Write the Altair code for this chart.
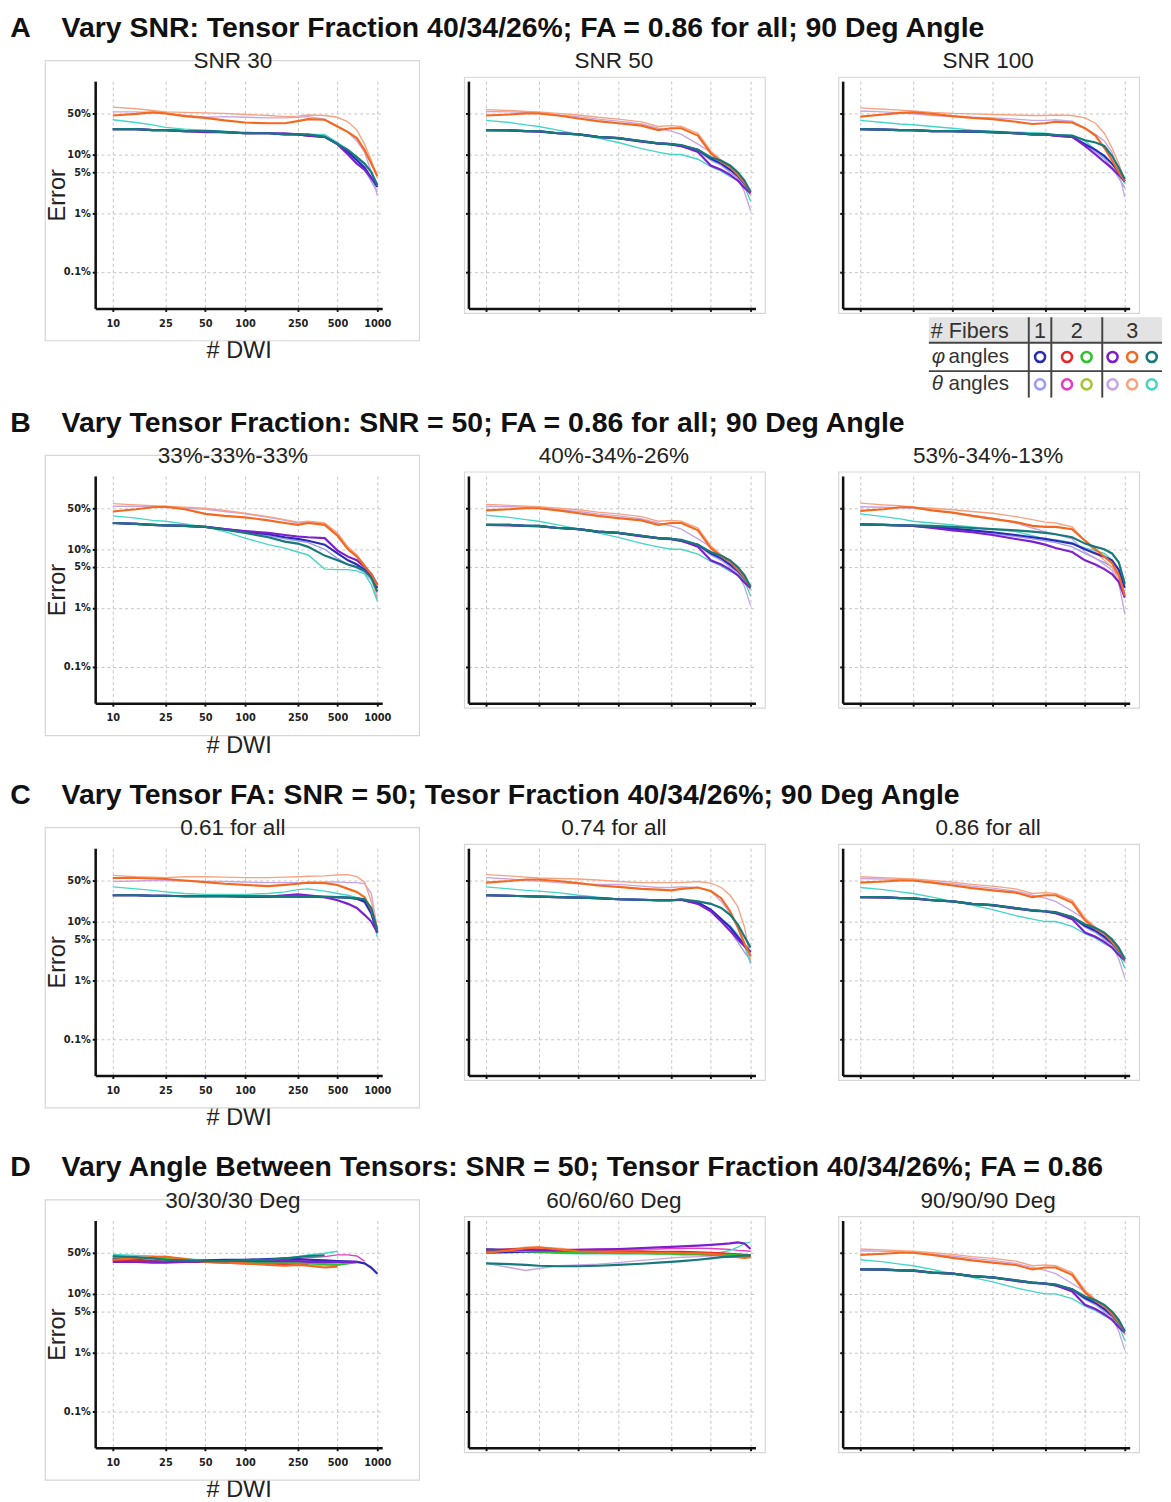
import altair as alt
import pandas as pd

# ---------------- data ----------------
DWI = [10, 15, 20, 25, 35, 50, 70, 100, 150, 200, 250, 300, 400, 500, 600, 700, 800, 900, 1000]
X_TICKS = [10, 25, 50, 100, 250, 500, 1000]
Y_TICKS = [0.1, 1, 5, 10, 50]

SERIES = ["f1_theta", "f2_theta_a", "f2_theta_b", "f3_theta_a", "f3_theta_b", "f3_theta_c",
          "f1_phi", "f2_phi_a", "f2_phi_b", "f3_phi_a", "f3_phi_b", "f3_phi_c"]
COLORS = ["#9c9cf0", "#e23fc4", "#a6c43c", "#c8a6e4", "#f5a483", "#45d6c6",
          "#2b2bb8", "#e52a2a", "#2ec22e", "#7d1fcc", "#f2691f", "#17797a"]
THIN = SERIES[:6]
THICK = SERIES[6:]

# Panel A1: SNR 30
A1 = {
    "f3_theta_b": [64, 60, 56, 53, 52, 51, 50, 48, 46, 44, 45, 47, 46, 43, 36, 26, 15, 8, 4.0],
    "f3_theta_a": [53, 53, 52, 50, 46, 43, 44, 43, 42, 42, 43, 44, 40, 30, 24, 17, 11, 5, 2.0],
    "f3_theta_c": [39, 35, 32, 29, 27, 26, 25, 23, 23, 22, 22, 22, 22, 16, 12, 8.5, 7, 5, 3.1],
    "f1_theta": [27, 27, 26, 26, 25, 25, 24, 24, 23, 22, 22, 21, 20, 16, 11, 8, 5.5, 3.5, 2.3],
    "f1_phi": [27, 27, 26, 26, 25, 25, 24, 23, 23, 22, 22, 21, 20, 15, 11, 8, 6, 4, 2.8],
    "f3_phi_a": [27, 27, 26, 26, 25, 24, 24, 23, 23, 23, 22, 21, 20, 15, 10, 7, 5.5, 4, 3.0],
    "f3_phi_c": [27, 27, 26, 26, 25, 25, 24, 23, 23, 22, 22, 22, 20, 15, 12, 9, 7, 5, 3.0],
    "f3_phi_b": [46, 49, 52, 50, 45, 42, 38, 35, 34, 34, 37, 40, 39, 30, 24, 19, 12, 7, 4.3],
}

# SNR 50, fraction 40/34/26, FA 0.86, 90 deg (same condition in A2, B2, C3, D3)
SNR50 = {
    "f3_theta_b": [58, 56, 54, 53, 50, 47, 43, 40, 36, 30, 31, 30, 23, 11.5, 8, 6.5, 4.5, 3.2, 2.0],
    "f3_theta_a": [54, 53, 52, 50, 47, 44, 40, 37, 33, 28, 25, 22, 15, 11, 8, 6, 4, 2.3, 1.1],
    "f3_theta_c": [38, 35, 32, 30, 26, 22, 19, 16, 12.6, 11, 10, 10, 8.3, 6.2, 5.2, 4.2, 3.7, 2.9, 1.6],
    "f1_theta": [26, 26, 25, 24.5, 23, 22, 20, 18.5, 16.5, 15, 14.5, 13.5, 11.5, 8, 6.5, 5, 4, 2.9, 2.1],
    "f1_phi": [26, 26, 25, 25, 23, 22, 20, 19, 17, 15.5, 15, 14, 12, 8.5, 7, 5.5, 4.3, 3.2, 2.3],
    "f3_phi_a": [26, 25.5, 25, 24.5, 23, 22, 20, 19, 16.5, 15.5, 15, 14, 11, 6.5, 5.5, 4.5, 3.6, 2.7, 2.2],
    "f3_phi_c": [26, 26, 25, 25, 23, 22, 20, 19, 17, 15.5, 15, 14.5, 12, 9, 7.8, 6.5, 5, 3.6, 2.3],
    "f3_phi_b": [46, 48, 50, 50, 46, 41, 37, 34, 31, 26, 28, 28, 21, 10.5, 7.5, 6.2, 4.5, 3.3, 2.3],
}

# Panel A3: SNR 100
A3 = {
    "f3_theta_b": [62, 59, 57, 55, 52, 50, 49, 48, 47, 46, 46, 47, 46, 42, 34, 23, 13, 7, 3.5],
    "f3_theta_a": [55, 53, 51, 49, 46, 44, 43, 42, 40, 38, 38, 39, 37, 28, 22, 17, 11, 5, 1.9],
    "f3_theta_c": [38, 35, 33, 32, 30, 28, 26, 25, 24, 23.5, 23, 22, 21, 17, 12, 9, 7, 5, 3.2],
    "f1_theta": [27, 26.5, 26, 25.5, 25, 24.5, 24, 23.5, 22.5, 22, 21.5, 21, 20, 15, 11, 8.5, 6, 4, 2.7],
    "f1_phi": [27, 26.5, 26, 26, 25, 25, 24.5, 24, 23, 22, 22, 21, 20, 15, 12, 9.5, 7, 5, 3.5],
    "f3_phi_a": [27, 26.5, 26, 26, 25, 25, 24.5, 24, 23, 22, 22, 21, 20, 14, 10, 7.5, 5.8, 4.5, 3.5],
    "f3_phi_c": [27, 26.5, 26, 26, 25, 25, 24.5, 24, 23, 22, 22, 21.5, 21, 17.5, 16, 14, 9.5, 6, 3.8],
    "f3_phi_b": [44, 48, 51, 52, 49, 45, 42, 40, 36, 33, 34, 36, 35, 28, 21, 13, 8, 5, 3.6],
}

# Panel B1: 33%-33%-33%
B1 = {
    "f3_theta_b": [60, 57, 55, 54, 52, 50, 46, 41, 36, 32, 29, 30, 28, 19, 11, 8, 5.5, 3.5, 1.4],
    "f3_theta_a": [54, 54, 53, 52, 50, 48, 44, 40, 35, 31, 28, 29, 27, 18, 10.5, 7.5, 5.2, 3.3, 1.5],
    "f3_theta_c": [37, 34, 31, 30, 27, 24, 20, 15.5, 12, 10.5, 9, 8, 4.6, 4.5, 4.5, 4.3, 3.8, 2.5, 1.3],
    "f1_theta": [28, 27, 26, 25.5, 25, 24, 22, 20, 17, 15, 14, 13, 10, 7, 5.5, 4.8, 4, 3, 1.8],
    "f1_phi": [28, 27, 26, 25.5, 25, 24, 22, 20, 18, 16, 15, 14, 12, 8.5, 6.5, 5.5, 4.5, 3.5, 2.2],
    "f3_phi_a": [28, 27, 26, 25.5, 25, 24, 22, 20.5, 19, 17.5, 16.5, 16, 15.5, 9.5, 7.5, 6.5, 5, 3.8, 2.5],
    "f3_phi_c": [28, 27, 26, 25.5, 25, 24, 21.5, 19, 16, 13.5, 12.5, 11, 7.8, 6.5, 5.5, 5, 4.3, 3.3, 1.9],
    "f3_phi_b": [44, 48, 52, 53, 48, 40, 37, 35, 31, 28, 26, 28, 26, 17, 10, 7.5, 5.2, 3.8, 2.4],
}

# Panel B3: 53%-34%-13%
B3 = {
    "f3_theta_b": [61, 57, 55, 52, 50, 47, 44, 41, 36, 32, 29, 28, 24, 14, 9, 6.5, 5, 3, 1.7],
    "f3_theta_a": [53, 52, 51, 50, 46, 42, 38, 34, 28, 23, 20, 18, 15, 9, 7, 5.5, 4.4, 2.7, 0.8],
    "f3_theta_c": [40, 36, 33, 30, 28, 26, 24, 22, 20, 17, 15, 14.5, 13, 10.5, 9.5, 8.5, 6.5, 4.4, 2.6],
    "f1_theta": [26.5, 26, 25.5, 25, 23.5, 22, 20.5, 18.5, 16.5, 15, 14, 13, 11, 8.5, 7, 6, 5, 3.5, 1.8],
    "f1_phi": [26.5, 26, 25.5, 25, 24, 22.5, 21, 19.5, 17.5, 16, 15, 14, 12.5, 10, 8.5, 7.5, 6.5, 4.5, 2.2],
    "f3_phi_a": [26.5, 26, 25.5, 25, 23, 21, 19.5, 17.5, 15, 13.5, 12, 10.5, 9, 6.5, 5.5, 4.6, 3.8, 2.8, 1.5],
    "f3_phi_c": [26.5, 26, 25.5, 25.5, 25, 24, 23, 22, 21, 20, 19, 18, 16, 12.5, 11, 10, 8.5, 6, 2.6],
    "f3_phi_b": [45, 48, 52, 52, 46, 42, 37, 33, 29, 25, 24, 24, 22, 14, 10, 7.5, 5.8, 3.7, 1.6],
}

# Panel C1: FA 0.61
C1 = {
    "f3_theta_b": [61, 58, 57, 56, 58, 58, 57, 56, 56, 57, 58, 59, 60, 62, 63, 58, 47, 22, 7.5],
    "f3_theta_a": [48, 49, 50, 50, 49, 48, 48, 47, 46, 46, 46, 46, 47, 47, 46, 46, 44, 30, 7.5],
    "f3_theta_c": [39, 36, 34, 32, 30, 29, 29, 29, 30, 32, 35, 36, 33, 30, 28, 25.5, 23, 13.5, 5.5],
    "f1_theta": [28, 28, 27.5, 27.5, 27, 27, 27, 26.5, 26.5, 26.5, 26.5, 26, 26, 25.5, 25, 24, 21, 13, 6.5],
    "f1_phi": [28, 28, 27.5, 27.5, 27, 27, 27, 26.5, 26.5, 26.5, 26.5, 26.5, 26, 26, 25.5, 24.5, 22, 14, 6.5],
    "f3_phi_a": [28, 28, 27.5, 27.5, 27, 27, 27, 26.5, 26.5, 28, 29, 28, 26, 23, 20, 17, 13, 10, 6.5],
    "f3_phi_c": [28, 28, 27.5, 27.5, 27, 27, 27, 27, 27, 27, 27, 26.5, 26.5, 26, 25.5, 25, 24, 17, 7],
    "f3_phi_b": [55, 55, 54, 53, 50, 47, 44, 42, 40, 42, 44, 46, 45, 42, 36, 32, 26, 16, 7.5],
}

# Panel C2: FA 0.74
C2 = {
    "f3_theta_b": [63, 60, 57, 55, 54, 53, 51, 48, 46, 46, 46, 46, 48, 45, 38, 28, 18, 8, 2.2],
    "f3_theta_a": [56, 53, 50, 49, 46, 44, 43, 43, 40, 38, 38, 39, 38, 33, 22, 14, 8, 4, 1.9],
    "f3_theta_c": [39, 36, 34, 33, 31, 28, 26, 24, 23, 22.5, 23, 24, 21, 16, 11, 8.5, 6, 3.8, 2.0],
    "f1_theta": [28, 27.5, 27, 26.5, 26, 25.5, 24.5, 24, 23, 22.5, 22.5, 23, 20, 15, 10, 7, 4.5, 3, 2.2],
    "f1_phi": [28, 27.5, 27, 26.5, 26, 25.5, 25, 24, 23.5, 23, 23, 23.5, 21, 16, 11, 8, 5.5, 4, 3.0],
    "f3_phi_a": [28, 27.5, 27, 26.5, 26, 25.5, 25, 24, 23.5, 23, 23, 23.5, 20, 15, 10, 7, 5, 3.8, 3.0],
    "f3_phi_c": [28, 27.5, 27, 26.5, 26, 25.5, 25, 24, 23.5, 23, 23, 24, 22, 20, 17, 13, 9, 5.5, 3.6],
    "f3_phi_b": [46, 49, 52, 52, 49, 45, 41, 39, 36, 35, 34, 36, 38, 33, 25, 15, 8, 4.2, 2.6],
}

# Panel D1: 30/30/30 deg (several estimates stop early)
D1 = {
    "f3_theta_b": [37, 38, 40, 41, 38, 35, 34, 33, 32, 31, 31, 31, 30, 30, None, None, None, None, None],
    "f3_theta_a": [38, 37, 36, 35, 35, 35, 36, 36, 36, 37, 37, 37, 36, 35, 35, None, None, None, None],
    "f2_theta_b": [38, 37, 36, 36, 36, 36, 35, 35, 35, 35, 34, 34, 33, 33, 33, 34, None, None, None],
    "f1_theta": [39, 37, 36, 35, 35, 36, 36, 37, 38, 38, 38, 38, 37, 36, 36, 35, 33, 27, 22],
    "f2_theta_a": [39, 37, 36, 35, 35, 35, 36, 36, 37, 38, 40, 41, 43, 46, 46, 44, 36, None, None],
    "f3_theta_c": [47, 45, 44, 42, 40, 37, 37, 38, 39, 40, 43, 46, 49, 53, None, None, None, None, None],
    "f3_phi_c": [44, 42, 40, 38, 37, 36, 36, 37, 38, 40, 42, 44, 45, None, None, None, None, None, None],
    "f2_phi_b": [42, 41, 40, 39, 37, 36, 35, 35, 34, 34, 33, 33, 32, 31, 33, 34.5, None, None, None],
    "f2_phi_a": [36, 36, 35.5, 35, 35, 35, 34, 33, 32.5, 32, 32, 32, None, None, None, None, None, None, None],
    "f3_phi_a": [35, 35, 34, 34, 35, 35, 35, 36, 36, 36, 36, 35, 35, 35, 35, 35, None, None, None],
    "f3_phi_b": [38, 40, 42, 43, 39, 35, 34, 33, 31, 30, 31, 30, 28, 29, None, None, None, None, None],
    "f1_phi": [40, 38, 36, 35, 36, 37, 38, 38, 39, 40, 39, 38, 37, 36, 35.5, 35, 33, 28, 22],
}

# Panel D2: 60/60/60 deg
D2 = {
    "f3_theta_a": [33, 28, 25, 27, 30, 31, 32, 34, 37, 39, 41, 42, 43, 44, 45, 45, 45, 44, 43],
    "f3_theta_b": [53, 58, 62, 62, 60, 56, 54, 53, 52, 51, 50, 49, 48, 46, 44, 43, 43, 43, 44],
    "f2_theta_a": [52, 54, 56, 56, 56, 57, 57, 57, 58, 58, 59, 59, 60, 59, 58, 57, 55, 54, 53],
    "f3_theta_c": [58, 55, 52, 50, 49, 48, 48, 48, 48, 48, 48, 48, 48, 49, 51, 55, 62, 72, 76],
    "f2_phi_b": [57, 55, 53, 52, 51, 50, 50, 49, 49, 48, 48, 47, 47, 46, 46, 46, 45, 45, 45],
    "f1_phi": [50, 51, 52, 52, 51, 51, 51, 51, 50, 50, 50, 50, 49, 48, 47, 46, 46, 45, 45],
    "f2_phi_a": [54, 57, 58, 57, 55, 54, 53, 53, 53, 52, 52, 52, 51, 50, 49, 48, 47, 46, 45],
    "f3_phi_b": [50, 55, 60, 62, 57, 53, 52, 51, 50, 50, 50, 49, 49, 48, 46, 43, 42, 41, 42],
    "f3_phi_c": [33, 32, 31, 30, 29.5, 29.5, 30, 31, 32.5, 34, 35, 36, 38, 40, 42, 43, 44, 45, 45],
    "f3_phi_a": [57, 56, 56, 55, 55, 56, 57, 58, 60, 62, 63, 64, 66, 68, 70, 72, 75, 72, 58],
}

ROW_TITLES = [
    "A\u2003\u200aVary SNR: Tensor Fraction 40/34/26%; FA = 0.86 for all; 90 Deg Angle",
    "B\u2003\u200aVary Tensor Fraction: SNR = 50; FA = 0.86 for all; 90 Deg Angle",
    "C\u2003\u200aVary Tensor FA: SNR = 50; Tesor Fraction 40/34/26%; 90 Deg Angle",
    "D\u2003\u200aVary Angle Between Tensors: SNR = 50; Tensor Fraction 40/34/26%; FA = 0.86",
]
PANEL_TITLES = [
    ["SNR 30", "SNR 50", "SNR 100"],
    ["33%-33%-33%", "40%-34%-26%", "53%-34%-13%"],
    ["0.61 for all", "0.74 for all", "0.86 for all"],
    ["30/30/30 Deg", "60/60/60 Deg", "90/90/90 Deg"],
]
PANEL_DATA = [
    [A1, SNR50, A3],
    [B1, SNR50, B3],
    [C1, C2, SNR50],
    [D1, D2, SNR50],
]

# legend table
LEG_ROW_SYMBOLS = ["φ", "θ"]
LEG_ROW_WORD = "angles"
LEG_HEADER = ["# Fibers", "1", "2", "3"]
LEG_PHI = [["f1_phi"], ["f2_phi_a", "f2_phi_b"], ["f3_phi_a", "f3_phi_b", "f3_phi_c"]]
LEG_THETA = [["f1_theta"], ["f2_theta_a", "f2_theta_b"], ["f3_theta_a", "f3_theta_b", "f3_theta_c"]]

# ---------------- layout ----------------
W, H = 293, 232
FONT = "Liberation Sans"
TXT = "#222222"


def to_long(data):
    rows = []
    for s in SERIES:
        if s in data:
            for d, v in zip(DWI, data[s]):
                if v is not None:
                    rows.append({"dwi": d, "err": v, "series": s})
    return pd.DataFrame(rows)


def panel(data, title, first):
    df = to_long(data)
    xscale = alt.Scale(type="log", domain=[7.36, 1089], nice=False)
    yscale = alt.Scale(type="log", domain=[0.024, 177], nice=False)
    common = dict(grid=True, gridDash=[3, 3], gridColor="#c4c4c4", gridWidth=1,
                  domainColor="#111111", domainWidth=2.6, tickColor="#111111",
                  tickSize=3, tickWidth=2, labelFont="DejaVu Sans",
                  labelFontWeight="bold", labelFontSize=10, labelColor=TXT,
                  labelOverlap=False, titleFont=FONT, titleFontWeight="normal",
                  titleFontSize=24, titleColor=TXT)
    if first:
        xaxis = alt.Axis(values=X_TICKS, title="# DWI", labelPadding=7, format="d",
                         titlePadding=11, labelFlush=False, **common)
        yaxis = alt.Axis(values=Y_TICKS, title="Error", labelPadding=2,
                         titlePadding=-6, labelExpr="datum.value + '%'", **common)
    else:
        xaxis = alt.Axis(values=X_TICKS, title=None, labels=False, **common)
        yaxis = alt.Axis(values=Y_TICKS, title=None, labels=False, **common)

    base = alt.Chart(df).encode(
        x=alt.X("dwi:Q", scale=xscale, axis=xaxis),
        y=alt.Y("err:Q", scale=yscale, axis=yaxis),
        color=alt.Color("series:N", scale=alt.Scale(domain=SERIES, range=COLORS), legend=None),
    )
    thin = base.transform_filter(alt.FieldOneOfPredicate(field="series", oneOf=THIN)).mark_line(strokeWidth=1.4)
    thick = base.transform_filter(alt.FieldOneOfPredicate(field="series", oneOf=THICK)).mark_line(strokeWidth=2.2)

    if first:
        fx1, fx2, fy1, fy2 = -51, W + 38, -21, H + 33
    else:
        fx1, fx2, fy1, fy2 = -4, W + 10, -4, H + 5
    one = pd.DataFrame({"t": [title]})
    frame = alt.Chart(one).mark_rect(
        fillOpacity=0, stroke="#d6d6d6", strokeWidth=1.2
    ).encode(x=alt.value(fx1), x2=alt.value(fx2), y=alt.value(fy1), y2=alt.value(fy2))
    sub = alt.Chart(one).mark_text(
        font=FONT, fontSize=23, color=TXT, align="center", baseline="middle"
    ).encode(x=alt.value(W / 2 - 6 if first else W / 2 + 2), y=alt.value(-20), text="t:N")

    return alt.layer(frame, thin, thick, sub).properties(width=W, height=H)


def legend_chart():
    LW, LH = 326, 82
    edges = [88, 190, 213, 265, 326]
    hy = [0, 26, 55, 82]
    step = 20
    xs = alt.Scale(domain=[0, LW], nice=False, zero=False)
    ys = alt.Scale(domain=[0, LH], nice=False, zero=False, reverse=True)

    spacer = alt.Chart(pd.DataFrame({"x": [0], "x2": [LW], "y": [0], "y2": [LH]})).mark_rect(opacity=0).encode(
        x=alt.X("x:Q", scale=xs, axis=None), x2="x2:Q",
        y=alt.Y("y:Q", scale=ys, axis=None), y2="y2:Q")
    head_bg = alt.Chart(pd.DataFrame({"x": [edges[0]], "x2": [edges[-1]], "y": [hy[0]], "y2": [hy[1]]})).mark_rect(
        color="#e3e3e3").encode(x=alt.X("x:Q", scale=xs, axis=None), x2="x2:Q",
                                y=alt.Y("y:Q", scale=ys, axis=None), y2="y2:Q")

    vlines = pd.DataFrame({"x": edges[1:4], "y": [hy[0]] * 3, "y2": [hy[3]] * 3})
    vr = alt.Chart(vlines).mark_rule(color="#444444", strokeWidth=2).encode(
        x=alt.X("x:Q", scale=xs, axis=None), y=alt.Y("y:Q", scale=ys, axis=None), y2="y2:Q")
    hlines = pd.DataFrame({"x": [edges[0]] * 2, "x2": [edges[-1]] * 2, "y": hy[1:3]})
    hr = alt.Chart(hlines).mark_rule(color="#444444", strokeWidth=2).encode(
        x=alt.X("x:Q", scale=xs, axis=None), x2="x2:Q", y=alt.Y("y:Q", scale=ys, axis=None))

    htext = [{"t": LEG_HEADER[0], "x": edges[0] + 2, "y": (hy[0] + hy[1]) / 2, "a": "left"}]
    for i in range(3):
        htext.append({"t": LEG_HEADER[i + 1], "x": (edges[i + 1] + edges[i + 2]) / 2,
                      "y": (hy[0] + hy[1]) / 2, "a": "center"})
    hdf = pd.DataFrame(htext)
    ht_left = alt.Chart(hdf[hdf.a == "left"]).mark_text(
        font=FONT, fontSize=22, color="#333333", align="left", baseline="middle", dy=1).encode(
        x=alt.X("x:Q", scale=xs, axis=None), y=alt.Y("y:Q", scale=ys, axis=None), text="t:N")
    ht_center = alt.Chart(hdf[hdf.a == "center"]).mark_text(
        font=FONT, fontSize=22, color="#333333", align="center", baseline="middle", dy=1).encode(
        x=alt.X("x:Q", scale=xs, axis=None), y=alt.Y("y:Q", scale=ys, axis=None), text="t:N")

    rl = pd.DataFrame({"t": LEG_ROW_SYMBOLS, "x": [edges[0] + 3] * 2,
                       "y": [(hy[1] + hy[2]) / 2, (hy[2] + hy[3]) / 2]})
    sym = alt.Chart(rl).mark_text(font=FONT, fontSize=21, fontStyle="italic", color="#333333",
                                  align="left", baseline="middle").encode(
        x=alt.X("x:Q", scale=xs, axis=None), y=alt.Y("y:Q", scale=ys, axis=None), text="t:N")
    rw = pd.DataFrame({"t": [LEG_ROW_WORD] * 2, "x": [edges[0] + 20] * 2,
                       "y": [(hy[1] + hy[2]) / 2, (hy[2] + hy[3]) / 2]})
    word = alt.Chart(rw).mark_text(font=FONT, fontSize=21, color="#333333",
                                   align="left", baseline="middle").encode(
        x=alt.X("x:Q", scale=xs, axis=None), y=alt.Y("y:Q", scale=ys, axis=None), text="t:N")

    circ = []
    for r, groups in enumerate([LEG_PHI, LEG_THETA]):
        for c, g in enumerate(groups):
            mid = (edges[c + 1] + edges[c + 2]) / 2
            n = len(g)
            for k, s in enumerate(g):
                circ.append({"series": s, "x": mid + (k - (n - 1) / 2) * step,
                             "y": (hy[r + 1] + hy[r + 2]) / 2})
    cdf = pd.DataFrame(circ)
    circles = alt.Chart(cdf).mark_point(shape="circle", filled=False, size=105, strokeWidth=2.6,
                                        opacity=1).encode(
        x=alt.X("x:Q", scale=xs, axis=None), y=alt.Y("y:Q", scale=ys, axis=None),
        color=alt.Color("series:N", scale=alt.Scale(domain=SERIES, range=COLORS), legend=None))

    return alt.layer(spacer, head_bg, vr, hr, ht_left, ht_center, sym, word, circles).properties(
        width=LW, height=LH)


def row(i):
    cells = [panel(PANEL_DATA[i][j], PANEL_TITLES[i][j], j == 0) for j in range(3)]
    third = cells[2]
    if i == 0:
        third = alt.vconcat(cells[2], legend_chart(), spacing=2)
    return alt.hconcat(
        alt.hconcat(cells[0], cells[1], spacing=44), third, spacing=73,
        title=alt.TitleParams(ROW_TITLES[i], font=FONT, fontSize=29, fontWeight="bold",
                              color="#111111", anchor="start", dx=-35, offset=8),
    )


chart = alt.vconcat(
    row(0),
    alt.vconcat(row(1), row(2), row(3), spacing=25),
    spacing=11,
).configure_view(strokeWidth=0).properties(
    padding={"left": 2, "top": -9, "right": 0, "bottom": 0}
)

chart.save("out.html", embed_options={"renderer": "svg", "actions": False})
